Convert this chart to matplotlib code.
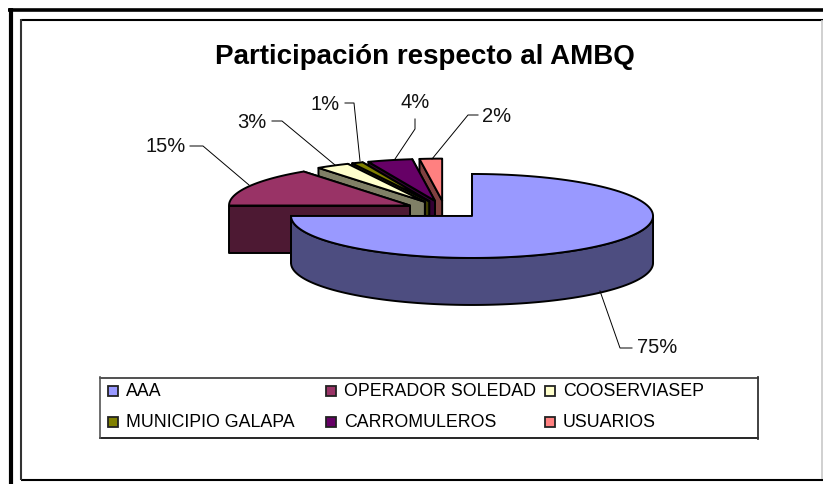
import numpy as np
import matplotlib
matplotlib.use('Agg')
import matplotlib.pyplot as plt
from matplotlib.patches import Polygon, Rectangle

plt.rcParams['font.family'] = ['Liberation Sans', 'DejaVu Sans']

categories = ['AAA', 'OPERADOR SOLEDAD', 'COOSERVIASEP', 'MUNICIPIO GALAPA', 'CARROMULEROS', 'USUARIOS']
shares = [75, 15, 3, 1, 4, 2]
top_colors = ['#9999FF', '#993366', '#FFFFCC', '#808000', '#660066', '#FF8080']
wall_colors = ['#4D4D80', '#4D1933', '#808066', '#404000', '#330033', '#804040']

# pie geometry, in pixels of the picture
CX, CY = 444.6, 210.6
RX, RY = 181, 42
DEPTH = 47
EXPLODE = 38.8
EDGE = 1.4


def rim(apex, a0, a1):
    t = np.radians(np.linspace(a0, a1, 120))
    return np.column_stack([apex[0] + RX * np.sin(t), apex[1] - RY * np.cos(t)])


def draw_slice(ax, a0, a1, top, wall):
    mid = np.radians((a0 + a1) / 2)
    apex = (CX + EXPLODE * np.sin(mid), CY - EXPLODE * (RY / RX) * np.cos(mid))
    down = np.array([0, DEPTH])

    def face(pts, color):
        ax.add_patch(Polygon(pts, closed=True, facecolor=color, edgecolor='black',
                             lw=EDGE, joinstyle='round'))

    # far radial wall first, it mostly ends up under the top face
    for ang in (a1, a0):
        outer = rim(apex, ang, ang)[0]
        face([apex, outer, outer + down, np.array(apex) + down], wall)
    # outer wall only for the front half of the ellipse
    lo, hi = max(a0, 90), min(a1, 270)
    if lo < hi:
        arc = rim(apex, lo, hi)
        face(np.vstack([arc, (arc + down)[::-1]]), wall)
    face(np.vstack([[apex], rim(apex, a0, a1)]), top)


fig = plt.figure(figsize=(8.23, 4.85), dpi=100)
ax = fig.add_axes([0, 0, 1, 1])
ax.set_xlim(0, 823)
ax.set_ylim(485, 0)
ax.axis('off')

# frames
ax.plot([8, 823], [10.5, 10.5], color='black', lw=2.6, solid_capstyle='butt')
ax.plot([11, 11], [9, 485], color='black', lw=3, solid_capstyle='butt')
ax.plot([21, 823], [20.8, 20.8], color='black', lw=1.5, solid_capstyle='butt')
ax.plot([21, 823], [480.5, 480.5], color='black', lw=1.5, solid_capstyle='butt')
ax.plot([21, 21], [20, 481], color='#333333', lw=1.5, solid_capstyle='butt')
ax.plot([822.5, 822.5], [21, 480], color='#C8C8C8', lw=1.2, solid_capstyle='butt')

ax.text(425, 57, 'Participación respecto al AMBQ', fontsize=20, fontweight='bold',
        ha='center', va='center', color='black')

# slices, back ones first so the nearer ones cover their walls
edges = np.concatenate([[0], np.cumsum(shares)]) * 360 / sum(shares)
for i in [5, 4, 3, 2, 1, 0]:
    draw_slice(ax, edges[i], edges[i + 1], top_colors[i], wall_colors[i])

# data labels with leader lines
labels = [f'{s}%' for s in shares]
label_pos = [(657, 348), (166, 147), (252, 122), (325, 104), (415, 103), (497, 116)]
leaders = [
    [(600, 292), (620, 349), (632, 349)],
    [(190, 147), (203, 147), (249, 186)],
    [(272, 122), (282, 122), (335, 166)],
    [(345, 104), (354, 104), (360, 162)],
    [(415, 120), (415, 130), (395, 160)],
    [(478, 116), (468, 116), (432, 160)],
]
for lab, pos, line in zip(labels, label_pos, leaders):
    ax.plot(*zip(*line), color='black', lw=0.7)
    ax.text(pos[0], pos[1], lab, fontsize=14.5, ha='center', va='center', color='#111111')

# legend box
ax.plot([100, 758], [378.5, 378.5], color='#222222', lw=1.1)
ax.plot([100, 758], [439, 439], color='black', lw=1.2)
ax.plot([100, 100], [378, 439], color='#555555', lw=1.2)
ax.plot([758.5, 758.5], [378, 439.5], color='#333333', lw=1.3)

col_x = [108, 326, 545]
row_y = [392, 423]
for i, cat in enumerate(categories):
    x, y = col_x[i % 3], row_y[i // 3]
    ax.add_patch(Rectangle((x, y - 5), 10, 10, facecolor=top_colors[i], edgecolor='#222222', lw=1.3))
    ax.text(x + 18, y, cat, fontsize=12.8, ha='left', va='center', color='black')

fig.savefig('out.png', dpi=100)
